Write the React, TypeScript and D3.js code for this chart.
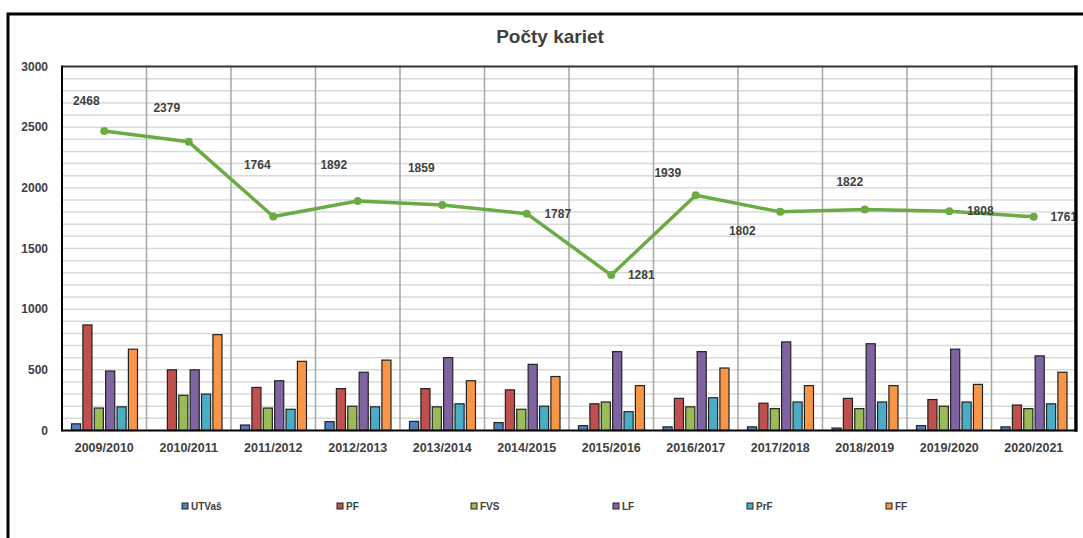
import React from "react";
import * as d3 from "d3";

const categories = [
  "2009/2010", "2010/2011", "2011/2012", "2012/2013", "2013/2014", "2014/2015",
  "2015/2016", "2016/2017", "2017/2018", "2018/2019", "2019/2020", "2020/2021",
];
const seriesNames = ["UTVaš", "PF", "FVS", "LF", "PrF", "FF"];
const seriesColors = ["#4F81BD", "#C0504D", "#9BBB59", "#8064A2", "#4BACC6", "#F79646"];

const utvas = [55, 0, 45, 73, 75, 65, 40, 30, 30, 20, 40, 30];
const pf = [870, 500, 355, 345, 345, 335, 220, 265, 225, 265, 255, 210];
const fvs = [185, 290, 185, 200, 195, 175, 235, 195, 180, 180, 200, 180];
const lf = [490, 500, 410, 480, 600, 545, 650, 650, 730, 715, 670, 615];
const prf = [195, 300, 175, 195, 220, 200, 155, 270, 235, 235, 235, 220];
const ff = [670, 790, 570, 580, 410, 445, 370, 515, 370, 370, 380, 480];
const seriesValues = [utvas, pf, fvs, lf, prf, ff];

const totals = [2468, 2379, 1764, 1892, 1859, 1787, 1281, 1939, 1802, 1822, 1808, 1761];
// label offsets relative to each point (manually placed in original)
const labelDx = [-18, -22, -16, -24, -21, 31, 30, -28, -38, -15, 31, 30];
const labelDy = [-30, -34, -52, -36, -37, 0, 0, -22, 19, -28, 0, 0];

const yTicks = [0, 500, 1000, 1500, 2000, 2500, 3000];
const legendX = [185, 340, 474, 616, 750, 889];

const W = 1083;
const H = 538;
const plot = { left: 62, right: 1076, top: 66.5, bottom: 430.5 };
const textColor = "#404040";
const font = "'Liberation Sans', Arial, sans-serif";

export default function App() {
  const x = d3.scaleBand<string>().domain(categories).range([plot.left, plot.right]).paddingInner(0).paddingOuter(0);
  const x1 = d3.scaleBand<string>().domain(seriesNames).range([9.5, 75.5]).paddingInner(0.2);
  const y = d3.scaleLinear().domain([0, 3000]).range([plot.bottom, plot.top]);
  const gridVals = d3.range(100, 3000, 100);

  const pts = totals.map((v, i) => [x(categories[i])! + x.bandwidth() / 2, y(v)] as [number, number]);
  const line = d3.line<[number, number]>()(pts) || "";

  return (
    <svg width={W} height={H} style={{ position: "absolute", left: 0, top: 0, display: "block" }} fontFamily={font}>
      <rect x={0} y={0} width={W} height={H} fill="#fff" />
      {/* outer frame */}
      <rect x={8} y={14} width={1200} height={700} fill="none" stroke="#000" strokeWidth={3} />
      {/* title */}
      <text x={550} y={43} textAnchor="middle" fontSize={19} fontWeight="bold" fill={textColor}>Počty kariet</text>

      {/* gridlines */}
      {gridVals.map((g) => (
        <line key={g} x1={plot.left} x2={plot.right} y1={y(g)} y2={y(g)} stroke="#d9d9d9" strokeWidth={1.5} />
      ))}
      {categories.slice(1).map((c) => (
        <line key={c} x1={x(c)!} x2={x(c)!} y1={plot.top} y2={plot.bottom} stroke="#a6a6a6" strokeWidth={1.5} />
      ))}
      {/* plot border */}
      <line x1={plot.left} x2={plot.right} y1={plot.top} y2={plot.top} stroke="#333" strokeWidth={2} />
      <line x1={plot.right} x2={plot.right} y1={plot.top - 1} y2={plot.bottom + 1} stroke="#000" strokeWidth={3} />

      {/* bars */}
      {seriesValues.map((vals, s) =>
        vals.map((v, i) =>
          v > 0 ? (
            <rect
              key={`${s}-${i}`}
              x={x(categories[i])! + x1(seriesNames[s])!}
              y={y(v)}
              width={x1.bandwidth()}
              height={plot.bottom - y(v)}
              fill={seriesColors[s]}
              stroke="#222"
              strokeWidth={1.2}
            />
          ) : null
        )
      )}

      {/* axes */}
      <line x1={plot.left} x2={plot.left} y1={plot.top - 1} y2={plot.bottom + 1} stroke="#000" strokeWidth={2} />
      <line x1={plot.left} x2={plot.right} y1={plot.bottom} y2={plot.bottom} stroke="#000" strokeWidth={2} />
      {yTicks.map((t) => (
        <text key={t} x={48} y={y(t)} dy="0.35em" textAnchor="end" fontSize={12} fontWeight="bold" fill={textColor}>{t}</text>
      ))}
      {categories.map((c) => (
        <text key={c} x={x(c)! + x.bandwidth() / 2} y={452} textAnchor="middle" fontSize={12.5} fontWeight="bold" fill={textColor}>{c}</text>
      ))}

      {/* line */}
      <path d={line} fill="none" stroke="#6AAB44" strokeWidth={3.5} strokeLinejoin="round" />
      {pts.map((p, i) => (
        <circle key={i} cx={p[0]} cy={p[1]} r={4} fill="#6AAB44" />
      ))}
      <g>
        {pts.map((p, i) => (
          <text key={i} x={p[0] + labelDx[i]} y={p[1] + labelDy[i]} dy="0.35em" textAnchor="middle" fontSize={12} fontWeight="bold" fill={textColor}>{totals[i]}</text>
        ))}
      </g>
      {/* mask beyond plot right edge (label clipped) */}
      <rect x={plot.right + 1.5} y={plot.top} width={W - plot.right} height={plot.bottom - plot.top} fill="#fff" />
      <line x1={plot.right} x2={plot.right} y1={plot.top - 1} y2={plot.bottom + 1} stroke="#000" strokeWidth={3} />

      {/* legend */}
      {seriesNames.map((n, i) => (
        <g key={n} transform={`translate(${legendX[i]},506)`}>
          <rect x={-3} y={-3} width={6} height={6} fill={seriesColors[i]} stroke="#222" strokeWidth={1} />
          <text x={6} y={0} dy="0.35em" fontSize={10} fontWeight="bold" fill={textColor}>{n}</text>
        </g>
      ))}
    </svg>
  );
}
